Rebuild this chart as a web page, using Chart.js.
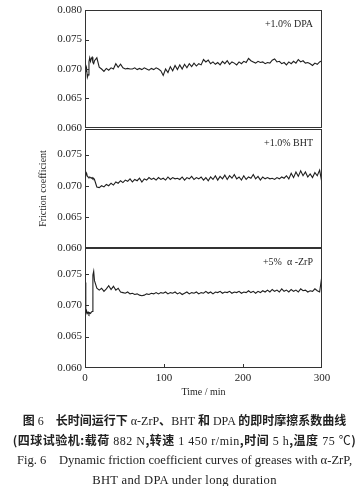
<!DOCTYPE html>
<html>
<head>
<meta charset="utf-8">
<script src="https://cdn.jsdelivr.net/npm/chart.js@4.4.0/dist/chart.umd.min.js"></script>
<style>
  html, body { margin: 0; padding: 0; background: #fff; }
  #wrap { position: relative; width: 361px; height: 486px; overflow: hidden; }
  .panel { position: absolute; left: 0; width: 361px; }
  .cap { position: absolute; left: 4px; width: 361px; text-align: center; white-space: nowrap; color: #222; line-height: 20px; }
  .cn { font-family: "Liberation Serif", "Noto Sans CJK SC", serif; font-size: 12px; }
  .cn b { font-family: "Noto Sans CJK SC", sans-serif; font-weight: 700; }
  .en { font-family: "Liberation Serif", serif; font-size: 12.6px; }
</style>
</head>
<body>
<div id="wrap">
  <div class="panel" style="top:0; height:140px"><canvas id="c1"></canvas></div>
  <div class="panel" style="top:120px; height:140px"><canvas id="c2"></canvas></div>
  <div class="panel" style="top:240px; height:168px"><canvas id="c3"></canvas></div>

  <div class="cap cn" style="top:410px"><b>图</b> 6&emsp;<b>长时间运行下</b> α-ZrP<b>、</b>BHT <b>和</b> DPA <b>的即时摩擦系数曲线</b></div>
  <div class="cap cn" style="top:430px; letter-spacing:0.5px"><b>(四球试验机:载荷</b> 882 N<b>,转速</b> 1 450 r/min<b>,时间</b> 5 h<b>,温度</b> 75 ℃<b>)</b></div>
  <div class="cap en" style="top:450px">Fig. 6&emsp;Dynamic friction coefficient curves of greases with α-ZrP,</div>
  <div class="cap en" style="top:470px; letter-spacing:0.3px">BHT and DPA under long duration</div>
</div>

<script>
/* ── data (time in min, friction coefficient) ───────────── */
const TIME = [0, 1, 2, 3, 4, 5, 6, 7, 8, 9, 10, 11, 12,
  15, 18, 21, 24, 27, 30, 33, 36, 39, 42, 45, 48, 51, 54, 57, 60,
  63, 66, 69, 72, 75, 78, 81, 84, 87, 90, 93, 96, 99, 102, 105, 108,
  111, 114, 117, 120, 123, 126, 129, 132, 135, 138, 141, 144, 147, 150,
  153, 156, 159, 162, 165, 168, 171, 174, 177, 180, 183, 186, 189, 192,
  195, 198, 201, 204, 207, 210, 213, 216, 219, 222, 225, 228, 231, 234,
  237, 240, 243, 246, 249, 252, 255, 258, 261, 264, 267, 270, 273, 276,
  279, 282, 285, 288, 291, 294, 297, 300];

const DPA = [0.0707, 0.0696, 0.0701, 0.0686, 0.0690, 0.0712, 0.0719, 0.0713, 0.0718, 0.0720, 0.0711, 0.0709, 0.0714,
  0.0719, 0.0703, 0.0700, 0.0696, 0.0701, 0.0698, 0.0702, 0.0700, 0.0709, 0.0703, 0.0708, 0.0702, 0.0700, 0.0701, 0.0700, 0.0700,
  0.0702, 0.0699, 0.0701, 0.0699, 0.0702, 0.0700, 0.0698, 0.0701, 0.0699, 0.0702, 0.0700, 0.0697, 0.0689, 0.0700, 0.0694, 0.0704,
  0.0697, 0.0706, 0.0699, 0.0707, 0.0700, 0.0708, 0.0702, 0.0709, 0.0704, 0.0710, 0.0705, 0.0709, 0.0707, 0.0716,
  0.0712, 0.0715, 0.0709, 0.0712, 0.0708, 0.0711, 0.0707, 0.0713, 0.0709, 0.0714, 0.0708, 0.0712, 0.0710, 0.0707,
  0.0712, 0.0709, 0.0713, 0.0711, 0.0718, 0.0714, 0.0712, 0.0710, 0.0713, 0.0711, 0.0712, 0.0709, 0.0711, 0.0710,
  0.0715, 0.0717, 0.0712, 0.0713, 0.0709, 0.0711, 0.0707, 0.0712, 0.0709, 0.0713, 0.0710, 0.0716, 0.0712, 0.0714,
  0.0710, 0.0711, 0.0709, 0.0706, 0.0710, 0.0708, 0.0712, 0.0714];

const BHT = [0.0716, 0.0722, 0.0720, 0.0715, 0.0714, 0.0713, 0.0714, 0.0713, 0.0712, 0.0713, 0.0711, 0.0712, 0.0710,
  0.0698, 0.0697, 0.0700, 0.0698, 0.0702, 0.0700, 0.0704, 0.0701, 0.0706, 0.0704, 0.0708, 0.0705, 0.0709, 0.0707, 0.0711, 0.0706,
  0.0710, 0.0708, 0.0712, 0.0706, 0.0711, 0.0709, 0.0713, 0.0710, 0.0712, 0.0709, 0.0713, 0.0710, 0.0712, 0.0709, 0.0714, 0.0710,
  0.0713, 0.0711, 0.0712, 0.0710, 0.0714, 0.0709, 0.0713, 0.0711, 0.0715, 0.0710, 0.0713, 0.0711, 0.0714, 0.0709,
  0.0713, 0.0708, 0.0714, 0.0710, 0.0716, 0.0709, 0.0715, 0.0711, 0.0717, 0.0710, 0.0716, 0.0712, 0.0718, 0.0711,
  0.0714, 0.0709, 0.0716, 0.0710, 0.0714, 0.0712, 0.0718, 0.0711, 0.0715, 0.0709, 0.0714, 0.0711, 0.0713, 0.0711,
  0.0712, 0.0710, 0.0713, 0.0711, 0.0714, 0.0712, 0.0716, 0.0711, 0.0720, 0.0713, 0.0722, 0.0715, 0.0724, 0.0716,
  0.0722, 0.0714, 0.0719, 0.0713, 0.0721, 0.0716, 0.0725, 0.0704];

const ZRP = [0.0736, 0.0686, 0.0691, 0.0687, 0.0689, 0.0686, 0.0688, 0.0687, 0.0689, 0.0690, 0.0748, 0.0754, 0.0739,
  0.0727, 0.0724, 0.0727, 0.0722, 0.0726, 0.0731, 0.0725, 0.0730, 0.0724, 0.0727, 0.0721, 0.0720, 0.0719, 0.0721, 0.0718, 0.0719,
  0.0717, 0.0718, 0.0716, 0.0715, 0.0716, 0.0718, 0.0717, 0.0719, 0.0718, 0.0720, 0.0718, 0.0720, 0.0719, 0.0721, 0.0718, 0.0720,
  0.0719, 0.0721, 0.0718, 0.0720, 0.0717, 0.0719, 0.0721, 0.0718, 0.0720, 0.0719, 0.0721, 0.0718, 0.0720, 0.0719,
  0.0722, 0.0719, 0.0721, 0.0718, 0.0721, 0.0720, 0.0722, 0.0719, 0.0721, 0.0720, 0.0722, 0.0719, 0.0721, 0.0720,
  0.0722, 0.0719, 0.0721, 0.0720, 0.0723, 0.0720, 0.0722, 0.0719, 0.0722, 0.0720, 0.0723, 0.0721, 0.0724, 0.0721,
  0.0725, 0.0722, 0.0724, 0.0721, 0.0726, 0.0722, 0.0724, 0.0721, 0.0725, 0.0722, 0.0724, 0.0721, 0.0726, 0.0723,
  0.0724, 0.0721, 0.0723, 0.0722, 0.0726, 0.0723, 0.0721, 0.0748];

const PANEL_LABELS = ['+1.0% DPA', '+1.0% BHT', '+5%  α -ZrP'];
const X_TICKS = [0, 100, 200, 300];
const Y_STEP = 0.005;

/* ── shared look ─────────────────────────────────────────── */
const SERIF = '"Liberation Serif", "Times New Roman", serif';
const INK = '#1f1f1f';
Chart.defaults.font.family = SERIF;
Chart.defaults.color = INK;

/* frame, inward tick marks and the panel label */
const panelFrame = {
  id: 'panelFrame',
  afterDatasetsDraw(chart, args, opts) {
    const { ctx, chartArea: a, scales } = chart;
    ctx.save();
    ctx.strokeStyle = '#333';
    ctx.lineWidth = 1;
    ctx.strokeRect(a.left + 0.5, a.top + 0.5, a.right - a.left - 1, a.bottom - a.top - 1);
    ctx.beginPath();
    scales.y.ticks.forEach(t => {
      const py = Math.round(scales.y.getPixelForValue(t.value)) + 0.5;
      if (py < a.top + 3 || py > a.bottom - 3) return;
      ctx.moveTo(a.left, py);
      ctx.lineTo(a.left + 4, py);
    });
    if (opts.xTicks) {
      scales.x.ticks.forEach(t => {
        const px = Math.round(scales.x.getPixelForValue(t.value)) + 0.5;
        if (px < a.left + 3 || px > a.right - 3) return;
        ctx.moveTo(px, a.bottom);
        ctx.lineTo(px, a.bottom - 4);
      });
    }
    ctx.stroke();
    ctx.fillStyle = INK;
    ctx.font = '10px ' + SERIF;
    ctx.textAlign = 'right';
    ctx.textBaseline = 'middle';
    ctx.fillText(opts.label, a.right - 9, a.top + 14);
    ctx.restore();
  }
};

function points(values) {
  return TIME.map((t, i) => ({ x: t, y: values[i] }));
}

/* ── one panel ───────────────────────────────────────────── */
function createPanel(canvasId, values, label, cfg) {
  const ctx = document.getElementById(canvasId);
  return new Chart(ctx, {
    type: 'line',
    data: {
      datasets: [{
        data: points(values),
        borderColor: INK, borderWidth: 1.1,
        pointRadius: 0, tension: 0, fill: false
      }]
    },
    plugins: [panelFrame],
    options: {
      responsive: true, maintainAspectRatio: false, animation: false, devicePixelRatio: 1,
      layout: { padding: { top: cfg.padTop, right: 39, bottom: cfg.padBottom, left: 0 } },
      plugins: {
        legend: { display: false },
        tooltip: { enabled: false },
        panelFrame: { label, xTicks: cfg.showX }
      },
      scales: {
        x: {
          type: 'linear', min: 0, max: 300,
          display: cfg.showX,
          afterBuildTicks: s => { s.ticks = X_TICKS.map(v => ({ value: v })); },
          afterFit: s => {
            s.paddingLeft = 0; s.paddingRight = 0;
            if (cfg.showX) s.height = 40;
          },
          grid: { display: false, drawTicks: false },
          border: { display: false },
          ticks: { font: { size: 11 }, padding: 4, maxRotation: 0 },
          title: { display: true, text: 'Time / min', font: { size: 10 }, padding: { top: 0, bottom: 10 } }
        },
        y: {
          type: 'linear', min: 0.060, max: cfg.yMax,
          afterFit: s => { s.width = 85; s.paddingTop = 0; s.paddingBottom = 0; },
          grid: { display: false, drawTicks: false },
          border: { display: false },
          ticks: {
            stepSize: Y_STEP, includeBounds: false, padding: 3,
            font: { size: 11 },
            callback: v => v.toFixed(3)
          },
          title: {
            display: cfg.yTitle, text: 'Friction coefficient',
            font: { size: 10 }, padding: { top: 37, bottom: 0 }
          }
        }
      }
    }
  });
}

createPanel('c1', DPA, PANEL_LABELS[0], { padTop: 10, padBottom: 12, yMax: 0.080, showX: false, yTitle: false });
createPanel('c2', BHT, PANEL_LABELS[1], { padTop: 9, padBottom: 12, yMax: 0.0791, showX: false, yTitle: true });
createPanel('c3', ZRP, PANEL_LABELS[2], { padTop: 8, padBottom: 0, yMax: 0.0791, showX: true, yTitle: false });
</script>
</body>
</html>
